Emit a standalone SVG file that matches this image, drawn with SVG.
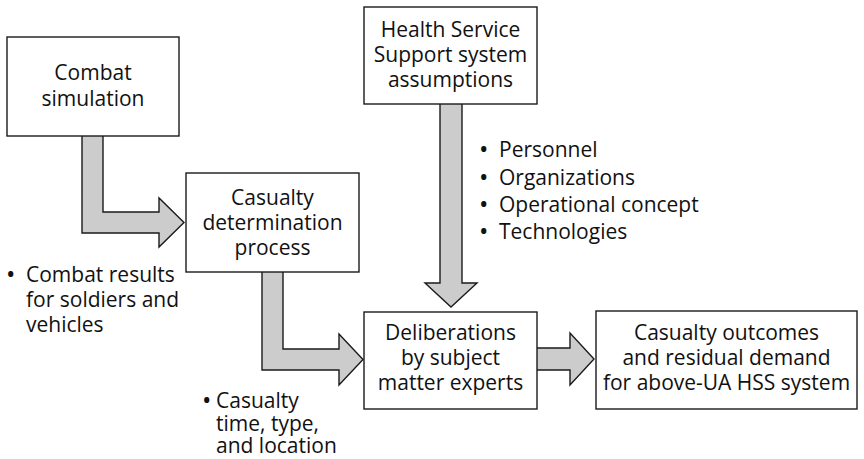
<svg xmlns="http://www.w3.org/2000/svg" width="864" height="459" viewBox="0 0 864 459">
<style>
.box{fill:#fff;stroke:#1a1a1a;stroke-width:1.4}
.arr{fill:#cccccc;stroke:#1a1a1a;stroke-width:1.4;stroke-linejoin:miter}
text{font-family:"Open Sans","Noto Sans",sans-serif;font-size:21px;fill:#111}
.c{text-anchor:middle}
.b{font-size:25px}
</style>
<rect width="864" height="459" fill="#fff"/>
<g id="connectors">
<path class="arr" d="M82,136 V233 H159 V247 L184,222.5 L159,198 V212 H103 V136"/>
<path class="arr" d="M262,272 V370 H339 V385 L363,359.5 L339,334 V349 H283 V272"/>
<path class="arr" d="M440,104 V283 H425 L451,307 L477,283 H462 V104"/>
<path class="arr" d="M537,348 H570 V333 L594,359 L570,385 V370 H537"/>
</g>
<g id="combat-simulation">
<rect class="box" x="7" y="37" width="172" height="99"/>
<text class="c"><tspan x="93" y="80">Combat</tspan><tspan x="93" y="106">simulation</tspan></text>
</g>
<g id="casualty-determination">
<rect class="box" x="186" y="173" width="173" height="99"/>
<text class="c"><tspan x="272.5" y="205">Casualty</tspan><tspan x="272.5" y="230">determination</tspan><tspan x="272.5" y="255">process</tspan></text>
</g>
<g id="hss-assumptions">
<rect class="box" x="364" y="7" width="173" height="97"/>
<text class="c"><tspan x="450.5" y="37">Health Service</tspan><tspan x="450.5" y="62">Support system</tspan><tspan x="450.5" y="87">assumptions</tspan></text>
</g>
<g id="deliberations">
<rect class="box" x="364" y="312" width="173" height="97"/>
<text class="c"><tspan x="450.5" y="340">Deliberations</tspan><tspan x="450.5" y="365">by subject</tspan><tspan x="450.5" y="390">matter experts</tspan></text>
</g>
<g id="casualty-outcomes">
<rect class="box" x="596" y="311" width="261" height="98"/>
<text class="c"><tspan x="726.5" y="340">Casualty outcomes</tspan><tspan x="726.5" y="365">and residual demand</tspan><tspan x="726.5" y="390">for above-UA HSS system</tspan></text>
</g>
<g id="combat-results-note">
<text><tspan class="b" x="6" y="283">•</tspan><tspan x="26" y="282">Combat results</tspan><tspan x="26" y="307">for soldiers and</tspan><tspan x="26" y="332">vehicles</tspan></text>
</g>
<g id="casualty-note">
<text><tspan class="b" x="202" y="409">•</tspan><tspan x="216" y="408">Casualty</tspan><tspan x="216" y="431">time, type,</tspan><tspan x="216" y="453">and location</tspan></text>
</g>
<g id="hss-list">
<text><tspan class="b" x="479" y="158">•</tspan><tspan x="499" y="157">Personnel</tspan><tspan class="b" x="479" y="186">•</tspan><tspan x="499" y="185">Organizations</tspan><tspan class="b" x="479" y="213">•</tspan><tspan x="499" y="212">Operational concept</tspan><tspan class="b" x="479" y="240">•</tspan><tspan x="499" y="239">Technologies</tspan></text>
</g>
</svg>
